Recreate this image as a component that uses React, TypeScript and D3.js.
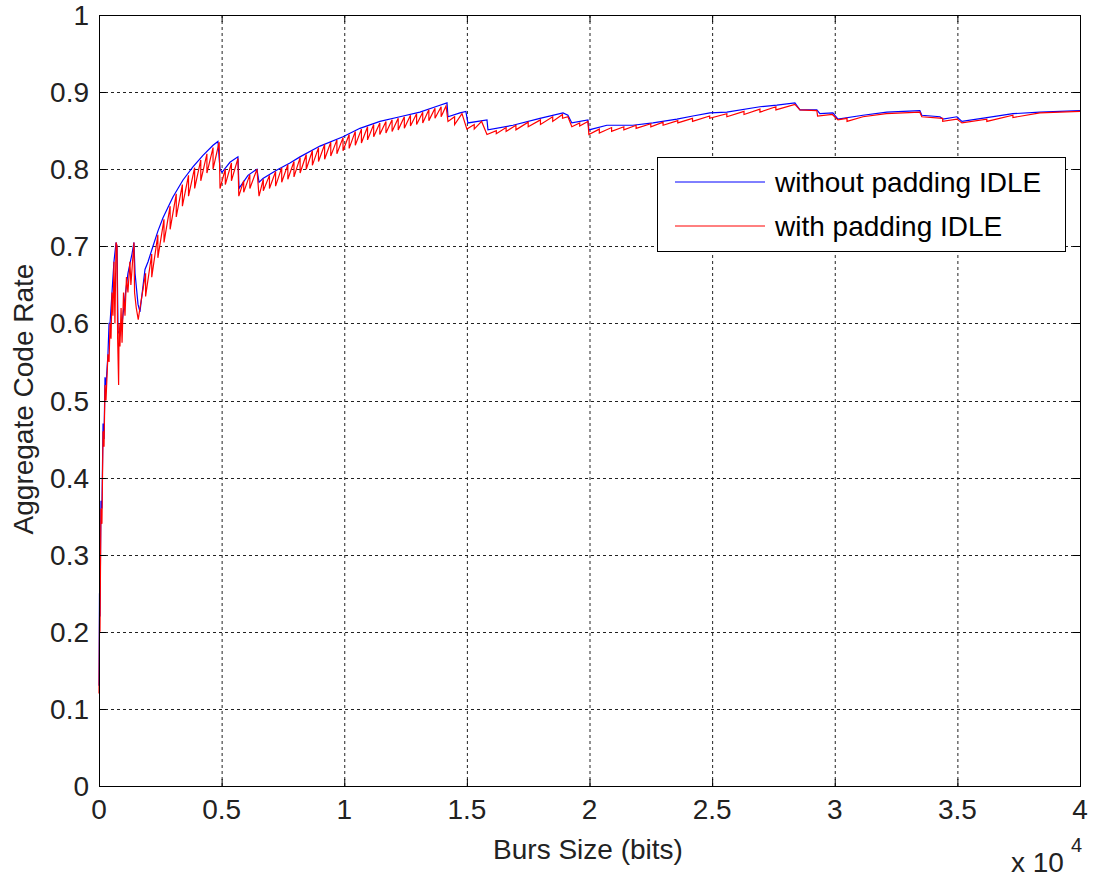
import React, { useEffect, useRef } from 'react'
import * as d3 from 'd3'

// burst size in bits, aggregate code rate
const blueX = [0, 20, 40, 80, 120, 165, 205, 245, 285, 365, 410, 450, 530, 610, 695, 735, 775, 855, 940, 1060, 1180, 1345, 1425, 1470, 1590, 1670, 1875, 2000, 2200, 2405, 2610, 3015, 3425, 3830, 4240, 4650, 4850, 4935, 5015, 5340, 5665, 5710, 5750, 6075, 6440, 6525, 6685, 7255, 7785, 8195, 9010, 9950, 10640, 11455, 12270, 13085, 13900, 14190, 14230, 14720, 14960, 15040, 15820, 15860, 16880, 17980, 18920, 19120, 19280, 19935, 19975, 20710, 21770, 22590, 23565, 24215, 24910, 25600, 26950, 27640, 28375, 28580, 29270, 29395, 29925, 30130, 31150, 32125, 33470, 33550, 34290, 34410, 34980, 35185, 36200, 37265, 38365, 40000]
const blueY = [0.13, 0.25, 0.22, 0.37, 0.36, 0.47, 0.45, 0.53, 0.52, 0.56, 0.6, 0.6, 0.64, 0.68, 0.705, 0.7, 0.59, 0.585, 0.6, 0.634, 0.665, 0.69, 0.705, 0.665, 0.625, 0.615, 0.67, 0.68, 0.7, 0.72, 0.737, 0.764, 0.786, 0.803, 0.818, 0.831, 0.836, 0.8, 0.796, 0.809, 0.816, 0.775, 0.777, 0.792, 0.8, 0.783, 0.788, 0.799, 0.808, 0.816, 0.83, 0.842, 0.853, 0.862, 0.868, 0.874, 0.883, 0.886, 0.868, 0.873, 0.875, 0.86, 0.864, 0.851, 0.857, 0.866, 0.873, 0.87, 0.86, 0.864, 0.851, 0.857, 0.857, 0.86, 0.865, 0.869, 0.873, 0.874, 0.881, 0.883, 0.886, 0.877, 0.877, 0.872, 0.873, 0.865, 0.87, 0.874, 0.876, 0.87, 0.868, 0.865, 0.868, 0.862, 0.867, 0.872, 0.874, 0.876]

const redX = [0, 30, 40, 80, 120, 165, 205, 245, 285, 365, 410, 450, 490, 530, 570, 610, 650, 695, 735, 760, 800, 820, 855, 900, 940, 1000, 1060, 1120, 1180, 1260, 1300, 1425, 1450, 1520, 1600, 1670,
  1900, 1900, 2150, 2150, 2400, 2400, 2650, 2650, 2900, 2900, 3150, 3150, 3400, 3400, 3650, 3650, 3900, 3900, 4150, 4150, 4400, 4400, 4650, 4650, 4900, 4935,
  5150, 5150, 5400, 5400, 5665, 5700, 5900, 5900, 6150, 6150, 6440, 6525, 6700, 6700, 6950, 6950, 7200, 7200, 7450, 7450, 7700, 7700, 7950, 7950, 8200, 8200, 8450, 8450, 8700, 8700, 8950, 8950, 9200, 9200, 9450, 9450, 9700, 9700, 9950, 9950,
  10200, 10200, 10450, 10450, 10700, 10700, 10950, 10950, 11200, 11200, 11450, 11450, 11700, 11700, 11950, 11950, 12200, 12200, 12450, 12450, 12700, 12700, 12950, 12950, 13200, 13200, 13450, 13450, 13700, 13700, 13950, 13950, 14150, 14230,
  14500, 14500, 14800, 15000, 15300, 15300, 15600, 15820, 16200, 16200, 16600, 16600, 17000, 17000, 17500, 17500, 18000, 18000, 18500, 18500, 18900, 18900, 19120, 19280, 19600, 19600, 19935, 19975,
  20400, 20400, 20900, 20900, 21400, 21400, 21900, 21900, 22500, 22500, 23000, 23000, 23600, 23600, 24200, 24200, 24900, 24900, 25600, 25600, 26300, 26300, 26950, 26950, 27600, 27600, 28375, 28580,
  29270, 29300, 29900, 30130, 30500, 30500, 31150, 32100, 33470, 33550, 34400, 34400, 34980, 35185, 36200, 36200, 37265, 37265, 38365, 40000]
const redY = [0.12, 0.25, 0.2, 0.36, 0.34, 0.46, 0.44, 0.52, 0.5, 0.56, 0.55, 0.6, 0.58, 0.64, 0.61, 0.68, 0.6, 0.705, 0.7, 0.58, 0.52, 0.6, 0.57, 0.62, 0.575, 0.64, 0.61, 0.66, 0.64, 0.68, 0.65, 0.705, 0.64, 0.62, 0.605, 0.62,
  0.665, 0.635, 0.69, 0.66, 0.715, 0.685, 0.735, 0.705, 0.752, 0.722, 0.768, 0.738, 0.78, 0.752, 0.792, 0.765, 0.802, 0.775, 0.812, 0.785, 0.82, 0.795, 0.828, 0.8, 0.835, 0.775,
  0.8, 0.78, 0.808, 0.785, 0.814, 0.765, 0.785, 0.77, 0.793, 0.775, 0.8, 0.765, 0.787, 0.772, 0.792, 0.775, 0.797, 0.778, 0.802, 0.783, 0.806, 0.787, 0.81, 0.79, 0.815, 0.795, 0.819, 0.8, 0.824, 0.805, 0.828, 0.81, 0.832, 0.813, 0.835, 0.817, 0.838, 0.82, 0.841, 0.824,
  0.845, 0.827, 0.849, 0.831, 0.852, 0.834, 0.855, 0.838, 0.858, 0.842, 0.86, 0.845, 0.862, 0.847, 0.864, 0.849, 0.866, 0.851, 0.868, 0.853, 0.87, 0.856, 0.872, 0.858, 0.874, 0.86, 0.877, 0.863, 0.879, 0.866, 0.881, 0.868, 0.882, 0.862,
  0.868, 0.858, 0.872, 0.852, 0.858, 0.852, 0.862, 0.845, 0.85, 0.846, 0.854, 0.849, 0.857, 0.851, 0.861, 0.855, 0.864, 0.858, 0.868, 0.862, 0.871, 0.866, 0.868, 0.855, 0.86, 0.856, 0.862, 0.845,
  0.852, 0.847, 0.854, 0.849, 0.855, 0.851, 0.857, 0.853, 0.859, 0.855, 0.861, 0.857, 0.863, 0.86, 0.866, 0.862, 0.869, 0.866, 0.872, 0.868, 0.875, 0.871, 0.878, 0.874, 0.881, 0.877, 0.884, 0.877,
  0.876, 0.869, 0.871, 0.864, 0.866, 0.862, 0.868, 0.872, 0.874, 0.868, 0.866, 0.862, 0.865, 0.86, 0.865, 0.862, 0.87, 0.867, 0.873, 0.875]

const xTicks = [0, 5000, 10000, 15000, 20000, 25000, 30000, 35000, 40000]
const yTicks = [0, 0.1, 0.2, 0.3, 0.4, 0.5, 0.6, 0.7, 0.8, 0.9, 1]
const seriesNames = ['without padding IDLE', 'with padding IDLE']
const seriesColors = ['#0000ff', '#ff0000']

const W = 1095, H = 879
const margin = { left: 99, right: 15, top: 15, bottom: 93 }
const font = '"Liberation Sans", Arial, sans-serif'
const fs = 28

export default function App() {
  const ref = useRef<SVGSVGElement>(null)

  useEffect(() => {
    const svg = d3.select(ref.current)
    svg.selectAll('*').remove()

    const x = d3.scaleLinear().domain([0, 40000]).range([margin.left, W - margin.right])
    const y = d3.scaleLinear().domain([0, 1]).range([H - margin.bottom, margin.top])
    const x0 = x.range()[0], x1 = x.range()[1]
    const y0 = y.range()[0], y1 = y.range()[1]

    svg.append('rect').attr('width', W).attr('height', H).attr('fill', '#fff')

    // grid
    const grid = svg.append('g').attr('stroke', '#222').attr('stroke-dasharray', '3,3').attr('stroke-width', 1)
    xTicks.slice(1, -1).forEach(t => {
      grid.append('line').attr('x1', x(t) + 0.5).attr('x2', x(t) + 0.5).attr('y1', y1).attr('y2', y0)
    })
    yTicks.slice(1, -1).forEach(t => {
      grid.append('line').attr('x1', x0).attr('x2', x1).attr('y1', Math.round(y(t)) + 0.5).attr('y2', Math.round(y(t)) + 0.5)
    })

    // lines
    const line = d3.line<[number, number]>().x(d => x(d[0])).y(d => y(d[1]))
    const blue = blueX.map((v, i) => [v, blueY[i]] as [number, number])
    const red = redX.map((v, i) => [v, redY[i]] as [number, number])
    svg.append('path').attr('d', line(blue)).attr('fill', 'none').attr('stroke', seriesColors[0]).attr('stroke-width', 1.2)
    svg.append('path').attr('d', line(red)).attr('fill', 'none').attr('stroke', seriesColors[1]).attr('stroke-width', 1.2)

    // box + ticks
    svg.append('rect').attr('x', x0 + 0.5).attr('y', y1 + 0.5).attr('width', x1 - x0).attr('height', y0 - y1)
      .attr('fill', 'none').attr('stroke', '#000')
    const tk = svg.append('g').attr('stroke', '#000')
    xTicks.forEach(t => {
      tk.append('line').attr('x1', x(t) + 0.5).attr('x2', x(t) + 0.5).attr('y1', y0).attr('y2', y0 - 7)
      tk.append('line').attr('x1', x(t) + 0.5).attr('x2', x(t) + 0.5).attr('y1', y1).attr('y2', y1 + 7)
    })
    yTicks.forEach(t => {
      tk.append('line').attr('x1', x0).attr('x2', x0 + 7).attr('y1', Math.round(y(t)) + 0.5).attr('y2', Math.round(y(t)) + 0.5)
      tk.append('line').attr('x1', x1).attr('x2', x1 - 7).attr('y1', Math.round(y(t)) + 0.5).attr('y2', Math.round(y(t)) + 0.5)
    })

    const txt = svg.append('g').attr('font-family', font).attr('font-size', fs).attr('fill', '#222')
    xTicks.forEach(t => {
      txt.append('text').attr('x', x(t)).attr('y', y0 + 33).attr('text-anchor', 'middle').text(d3.format('~g')(t / 10000))
    })
    yTicks.forEach(t => {
      txt.append('text').attr('x', x0 - 10).attr('y', y(t) + 10).attr('text-anchor', 'end').text(d3.format('~g')(t))
    })
    txt.append('text').attr('x', 1011).attr('y', 872).text('x 10')
    txt.append('text').attr('x', 1071).attr('y', 852).attr('font-size', 20).text('4')
    txt.append('text').attr('x', 588).attr('y', 859).attr('text-anchor', 'middle').text('Burs Size (bits)')
    txt.append('text').attr('transform', `translate(33,399) rotate(-90)`).attr('text-anchor', 'middle').text('Aggregate Code Rate')

    // legend
    const lg = svg.append('g')
    lg.append('rect').attr('x', 657.5).attr('y', 157.5).attr('width', 408).attr('height', 94).attr('fill', '#fff').attr('stroke', '#000')
    seriesNames.forEach((n, i) => {
      const ly = 182 + i * 44
      lg.append('line').attr('x1', 675).attr('x2', 765).attr('y1', ly).attr('y2', ly).attr('stroke', seriesColors[i])
      lg.append('text').attr('x', 775).attr('y', ly + 10).attr('font-family', font).attr('font-size', fs).attr('fill', '#000').text(n)
    })
  }, [])

  return <svg ref={ref} width={W} height={H} style={{ position: 'absolute', left: 0, top: 0 }} />
}
